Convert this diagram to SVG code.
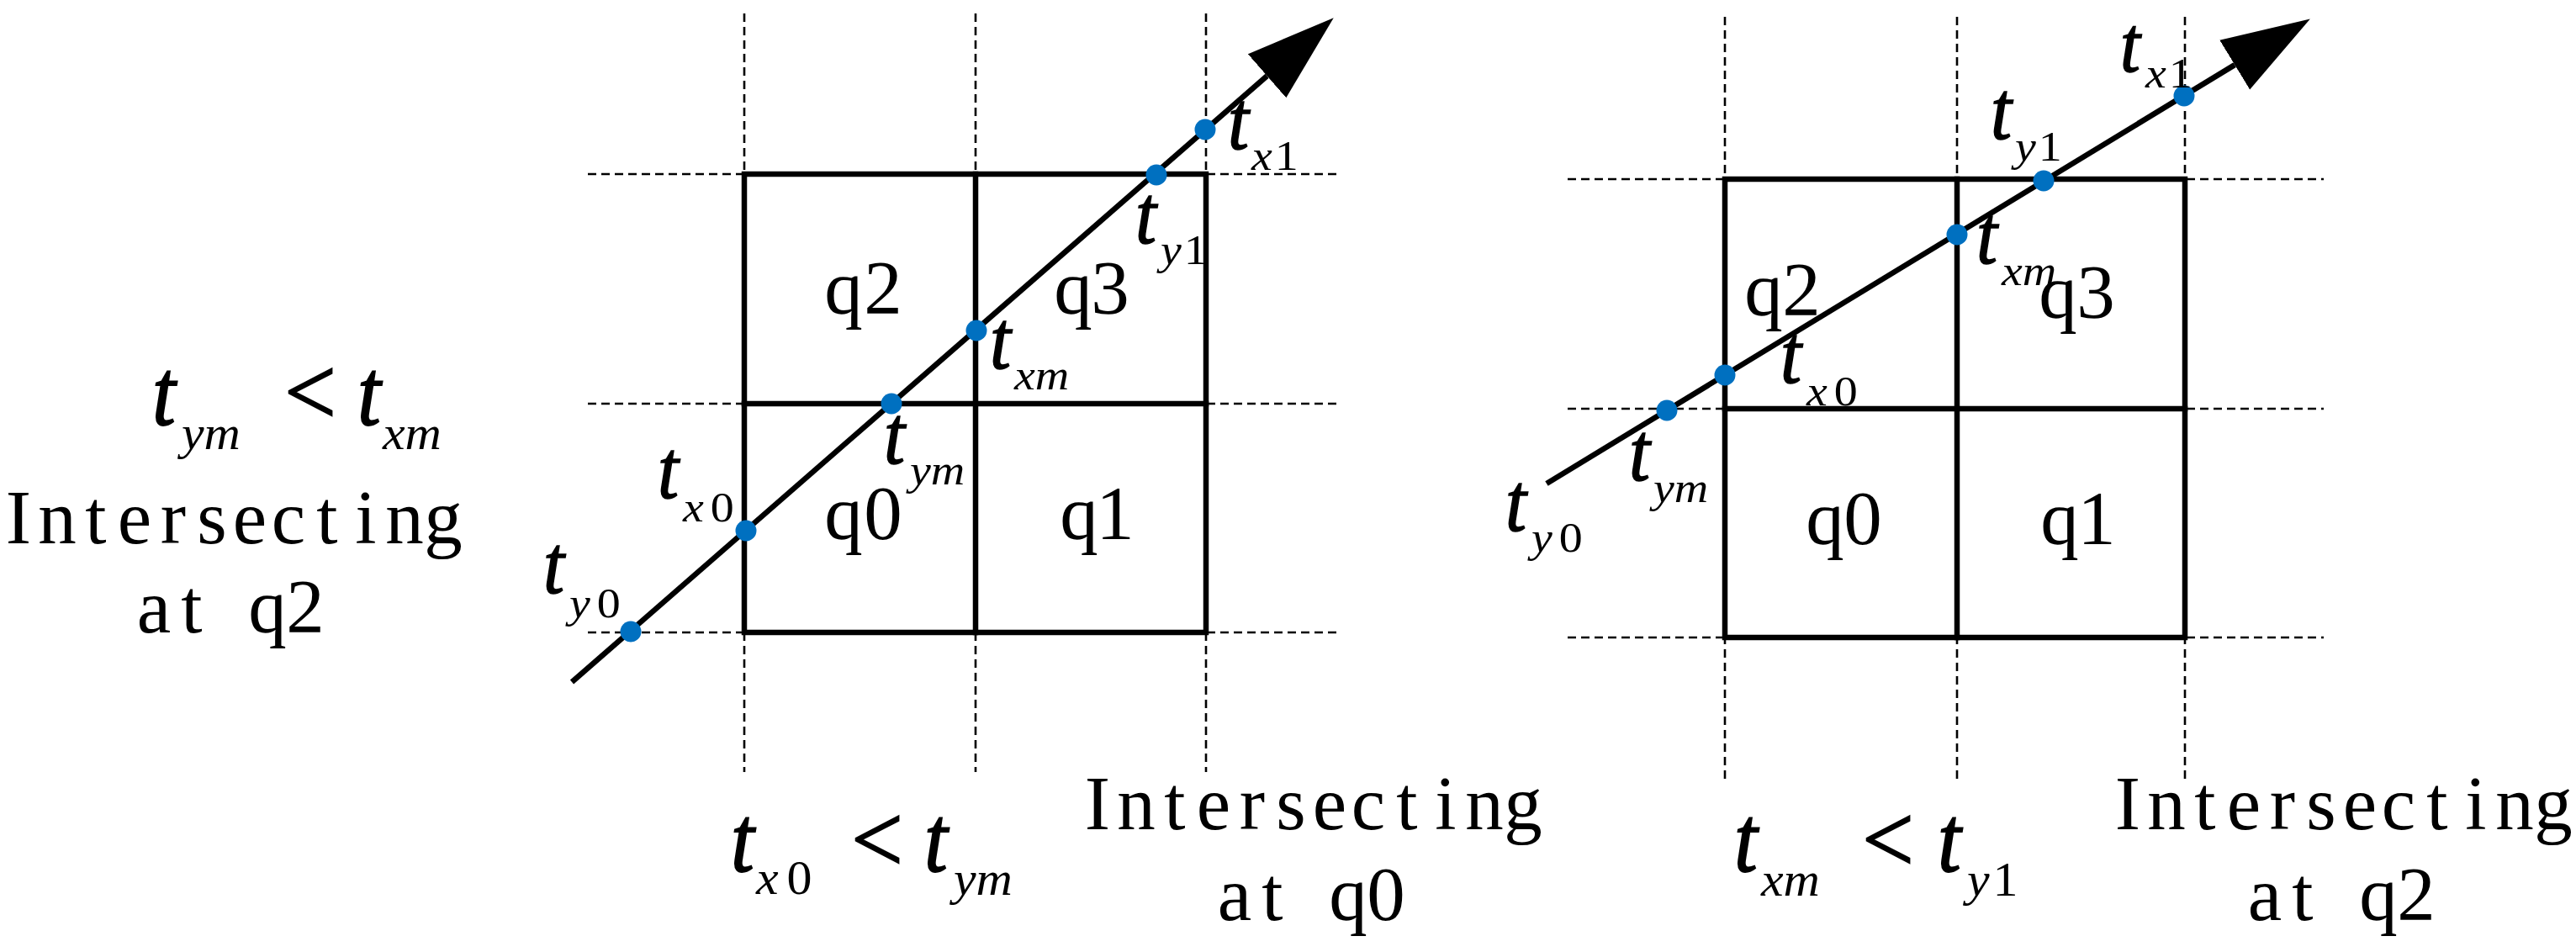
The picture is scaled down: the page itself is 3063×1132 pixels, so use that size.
<svg xmlns="http://www.w3.org/2000/svg" width="3063" height="1132" viewBox="0 0 3063 1132">
<style>
.dash{stroke:#000;stroke-width:2.6;stroke-dasharray:10 6;fill:none}
.grid{stroke:#000;stroke-width:6.5;fill:none;stroke-linecap:square}
.ray{stroke:#000;stroke-width:6.5;fill:none}
.dot{fill:#0070C0}
.t{font-family:"Liberation Serif","Times New Roman",serif;font-style:italic;font-size:90px;fill:#000;stroke:#000;stroke-width:1.4}
.T{font-family:"Liberation Serif","Times New Roman",serif;font-style:italic;font-size:100px;fill:#000;stroke:#000;stroke-width:1.6}
.s{font-family:"Liberation Serif","Times New Roman",serif;font-style:italic;font-size:56px;fill:#000}
.r{font-style:normal}
.L{font-family:"Liberation Serif","Times New Roman",serif;font-size:110px;fill:#000;stroke:#000;stroke-width:1.5}
.m{font-family:"Liberation Serif","Times New Roman",serif;font-size:91px;fill:#000;text-anchor:middle}
</style>
<defs>
<marker id="arrow" markerUnits="userSpaceOnUse" viewBox="0 -35 106 70" refX="0" refY="0" markerWidth="106" markerHeight="70" orient="auto">
<path d="M105,0 L0,-34.5 L0,34.5 Z" fill="#000"/>
</marker>
</defs>
<rect width="3063" height="1132" fill="#fff"/>

<g id="left-panel">
<g id="left-guides">
<line class="dash" x1="885" y1="16" x2="885" y2="918"/>
<line class="dash" x1="1160" y1="16" x2="1160" y2="918"/>
<line class="dash" x1="1434" y1="16" x2="1434" y2="918"/>
<line class="dash" x1="699" y1="207" x2="1595" y2="207"/>
<line class="dash" x1="699" y1="480" x2="1595" y2="480"/>
<line class="dash" x1="699" y1="752" x2="1595" y2="752"/>
</g>
<g id="left-grid">
<rect class="grid" x="885" y="207" width="549" height="545"/>
<line class="grid" x1="1160" y1="207" x2="1160" y2="752"/>
<line class="grid" x1="885" y1="480" x2="1434" y2="480"/>
</g>
<g id="left-q2"><text class="m" x="1003 1050" y="373">q2</text></g>
<g id="left-q3"><text class="m" x="1276 1320" y="373">q3</text></g>
<g id="left-q0"><text class="m" x="1003 1050" y="641">q0</text></g>
<g id="left-q1"><text class="m" x="1283 1326" y="641">q1</text></g>
</g>

<g id="right-panel">
<g id="right-guides">
<line class="dash" x1="2051" y1="20" x2="2051" y2="926"/>
<line class="dash" x1="2327" y1="20" x2="2327" y2="926"/>
<line class="dash" x1="2598" y1="20" x2="2598" y2="926"/>
<line class="dash" x1="1864" y1="213" x2="2763" y2="213"/>
<line class="dash" x1="1864" y1="486" x2="2763" y2="486"/>
<line class="dash" x1="1864" y1="758" x2="2763" y2="758"/>
</g>
<g id="right-grid">
<rect class="grid" x="2051" y="213" width="547" height="545"/>
<line class="grid" x1="2327" y1="213" x2="2327" y2="758"/>
<line class="grid" x1="2051" y1="486" x2="2598" y2="486"/>
</g>
<g id="right-q2"><text class="m" x="2097 2142" y="375">q2</text></g>
<g id="right-q3"><text class="m" x="2447 2492" y="378">q3</text></g>
<g id="right-q0"><text class="m" x="2170 2215" y="647">q0</text></g>
<g id="right-q1"><text class="m" x="2449 2493" y="647">q1</text></g>
</g>

<g id="connectors">
<line class="ray" x1="680" y1="811" x2="1506.6" y2="90.3" marker-end="url(#arrow)"/>
<line class="ray" x1="1839" y1="575" x2="2657.2" y2="77.1" marker-end="url(#arrow)"/>
</g>

<g id="left-points">
<circle class="dot" cx="750" cy="751" r="12.5"/>
<circle class="dot" cx="887" cy="631" r="12.5"/>
<circle class="dot" cx="1060" cy="480" r="12.5"/>
<circle class="dot" cx="1161" cy="393" r="12.5"/>
<circle class="dot" cx="1375" cy="208" r="12.5"/>
<circle class="dot" cx="1433" cy="154" r="12.5"/>
</g>
<g id="right-points">
<circle class="dot" cx="1982" cy="488" r="12.5"/>
<circle class="dot" cx="2051" cy="446" r="12.5"/>
<circle class="dot" cx="2327" cy="279" r="12.5"/>
<circle class="dot" cx="2430" cy="215" r="12.5"/>
<circle class="dot" cx="2597" cy="114" r="12.5"/>
</g>

<g id="left-labels">
<g id="l-tx1"><text class="t" transform="translate(1460,177) scale(1,1.1)">t</text><text class="s" transform="translate(1488,202) scale(1,0.92)">x<tspan class="r" dx="3">1</tspan></text></g>
<g id="l-ty1"><text class="t" transform="translate(1350,289) scale(1,1.1)">t</text><text class="s" transform="translate(1380,314) scale(1,0.92)">y<tspan class="r" dx="3">1</tspan></text></g>
<g id="l-txm"><text class="t" transform="translate(1177,438) scale(1,1.1)">t</text><text class="s" transform="translate(1206,463) scale(1,0.92)">xm</text></g>
<g id="l-tym"><text class="t" transform="translate(1051,551) scale(1,1.1)">t</text><text class="s" transform="translate(1082,576) scale(1,0.92)">ym</text></g>
<g id="l-tx0"><text class="t" transform="translate(782,592) scale(1,1.1)">t</text><text class="s" transform="translate(812,620) scale(1,0.92)">x<tspan class="r" dx="8">0</tspan></text></g>
<g id="l-ty0"><text class="t" transform="translate(646,705) scale(1,1.1)">t</text><text class="s" transform="translate(677,734) scale(1,0.92)">y<tspan class="r" dx="8">0</tspan></text></g>
</g>
<g id="right-labels">
<g id="r-tx1"><text class="t" transform="translate(2521,85) scale(1,1.1)" style="font-size:86px">t</text><text class="s" transform="translate(2551,104) scale(1,0.92)">x<tspan class="r" dx="3">1</tspan></text></g>
<g id="r-ty1"><text class="t" transform="translate(2367,165) scale(1,1.1)">t</text><text class="s" transform="translate(2396,191) scale(1,0.92)">y<tspan class="r" dx="3">1</tspan></text></g>
<g id="r-txm"><text class="t" transform="translate(2350,313) scale(1,1.1)">t</text><text class="s" transform="translate(2380,339) scale(1,0.92)">xm</text></g>
<g id="r-tx0"><text class="t" transform="translate(2117,455) scale(1,1.1)">t</text><text class="s" transform="translate(2148,482) scale(1,0.92)">x<tspan class="r" dx="8">0</tspan></text></g>
<g id="r-tym"><text class="t" transform="translate(1937,571) scale(1,1.1)">t</text><text class="s" transform="translate(1966,597) scale(1,0.92)">ym</text></g>
<g id="r-ty0"><text class="t" transform="translate(1790,631) scale(1,1.1)">t</text><text class="s" transform="translate(1821,656) scale(1,0.92)">y<tspan class="r" dx="8">0</tspan></text></g>
</g>

<g id="condition-left">
<text class="T" transform="translate(181,505) scale(1,1.12)">t</text><text class="s" transform="translate(216,534) scale(1,0.95)" style="font-size:60px">ym</text>
<text class="L" transform="translate(338,505) scale(1,1.06)">&lt;</text>
<text class="T" transform="translate(425,505) scale(1,1.12)">t</text><text class="s" transform="translate(455,534) scale(1,0.95)" style="font-size:60px">xm</text>
</g>
<g id="caption-left">
<text class="m" x="22 68 114 160 206 252 297 343 389 435 481 527" y="646">Intersecting</text>
<text class="m" x="183 228 273 318 363" y="752">at q2</text>
</g>

<g id="condition-mid">
<text class="T" transform="translate(869,1036) scale(1,1.12)">t</text><text class="s" transform="translate(899,1063) scale(1,0.95)" style="font-size:60px">x<tspan class="r" dx="10">0</tspan></text>
<text class="L" transform="translate(1012,1037) scale(1,1.06)">&lt;</text>
<text class="T" transform="translate(1099,1036) scale(1,1.12)">t</text><text class="s" transform="translate(1134,1064) scale(1,0.95)" style="font-size:60px">ym</text>
</g>
<g id="caption-mid">
<text class="m" x="1305 1351 1397 1443 1489 1535 1581 1627 1673 1719 1765 1811" y="986">Intersecting</text>
<text class="m" x="1468 1513 1558 1603 1648" y="1094">at q0</text>
</g>

<g id="condition-right">
<text class="T" transform="translate(2062,1036) scale(1,1.12)">t</text><text class="s" transform="translate(2094,1065) scale(1,0.95)" style="font-size:60px">xm</text>
<text class="L" transform="translate(2214,1037) scale(1,1.06)">&lt;</text>
<text class="T" transform="translate(2304,1036) scale(1,1.12)">t</text><text class="s" transform="translate(2339,1065) scale(1,0.95)" style="font-size:60px">y<tspan class="r" dx="4">1</tspan></text>
</g>
<g id="caption-right">
<text class="m" x="2530 2576 2622 2668 2714 2760 2806 2852 2898 2944 2990 3036" y="986">Intersecting</text>
<text class="m" x="2693 2738 2783 2828 2873" y="1094">at q2</text>
</g>
</svg>
